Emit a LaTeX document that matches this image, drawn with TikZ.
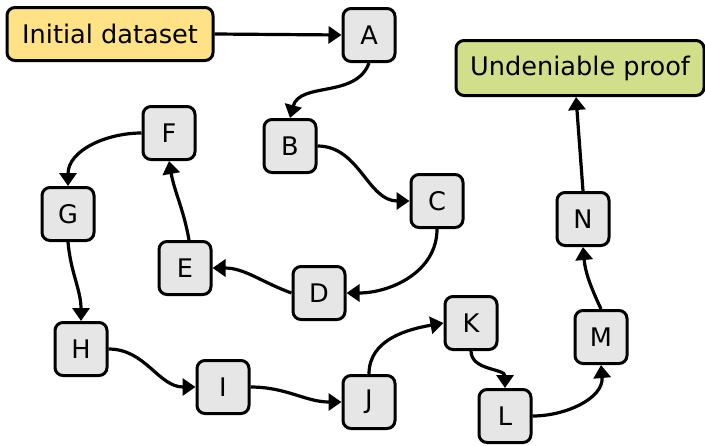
\documentclass[tikz,border=0pt]{standalone}
\usepackage{fontspec}
\setmainfont{DejaVu Sans}
\usetikzlibrary{arrows.meta}
\usepackage{xcolor}
\definecolor{boxgray}{HTML}{E6E6E6}
\definecolor{startyellow}{HTML}{FFE285}
\definecolor{endgreen}{HTML}{D1DF8A}

\begin{document}
\begin{tikzpicture}[x=0.5pt, y=-0.5pt,
  every node/.style={draw=black, line width=1.5pt, rounded corners=4pt, font=\fontsize{12.8}{15}\selectfont},
  step box/.style={fill=boxgray, minimum width=26pt, minimum height=26.5pt, inner sep=0pt},
  flow/.style={line width=1.6pt, -{Triangle[length=6.5pt, width=8.5pt]}}]
\useasboundingbox (0,0) rectangle (705,445);
\node[fill=startyellow, minimum width=103pt, minimum height=26.5pt] (init) at (110,34) {Initial dataset};
\node[fill=endgreen, minimum width=124pt, minimum height=27.5pt] (proof) at (580,68) {Undeniable proof};
% the chain of steps
\foreach \name/\x/\y in {A/369/35, B/290/146, C/437/201, D/319/293, E/185/268, F/169/133,
  G/68/214, H/81/349, I/223/387, J/369/402, K/471/323, L/505/416, M/601/337, N/583/219}
 \node[step box] (\name) at (\x,\y) {\name};
\draw[flow] (init.east) -- (A.west);
\draw[flow] (A.south) to[out=-110, in=75] (B.north);
\draw[flow] (B.east) to[out=0, in=180] (C.west);
\draw[flow] (C.south) to[out=-90, in=0] (D.east);
\draw[flow] (D.west) to[out=160, in=0] (E.east);
\draw[flow] ([xshift=2pt]E.north) to[out=100, in=-80] (F.south);
\draw[flow] (F.west) to[out=180, in=90] (G.north);
\draw[flow] (G.south) to[out=-85, in=90] (H.north);
\draw[flow] (H.east) to[out=0, in=180] (I.west);
\draw[flow] (I.east) to[out=0, in=180] (J.west);
\draw[flow] (J.north) to[out=90, in=190] (K.west);
\draw[flow] (K.south) to[out=-90, in=90] (L.north);
\draw[flow] (L.east) to[out=0, in=-85] (M.south);
\draw[flow] (M.north) to[out=115, in=-85] (N.south);
\draw[flow] (N.north) -- ([xshift=-2pt]proof.south);
\end{tikzpicture}
\end{document}
